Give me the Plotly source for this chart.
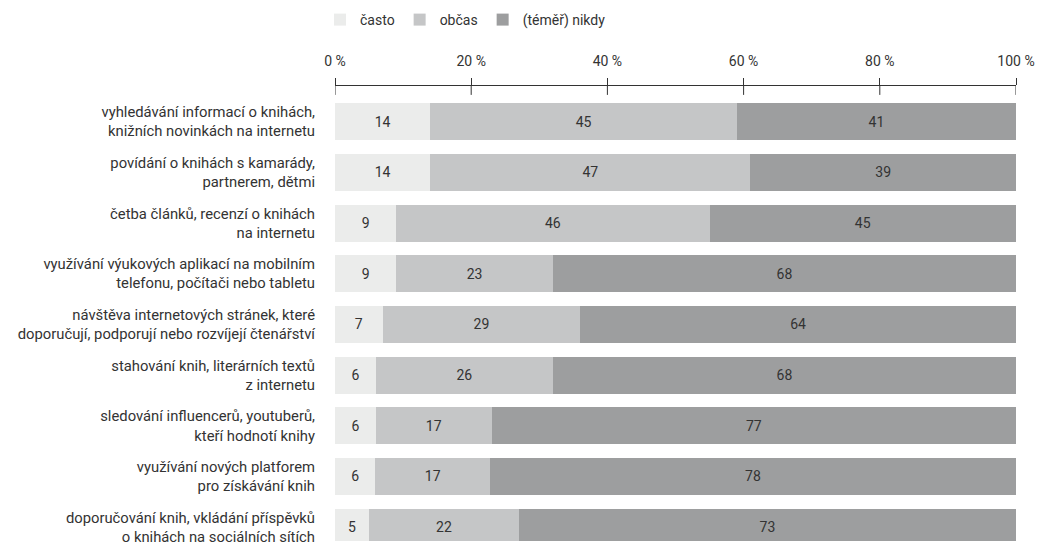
import plotly.graph_objects as go

categories = [
    "vyhledávání informací o knihách,<br>knižních novinkách na internetu",
    "povídání o knihách s kamarády,<br>partnerem, dětmi",
    "četba článků, recenzí o knihách<br>na internetu",
    "využívání výukových aplikací na mobilním<br>telefonu, počítači nebo tabletu",
    "návštěva internetových stránek, které<br>doporučují, podporují nebo rozvíjejí čtenářství",
    "stahování knih, literárních textů<br>z internetu",
    "sledování influencerů, youtuberů,<br>kteří hodnotí knihy",
    "využívání nových platforem<br>pro získávání knih",
    "doporučování knih, vkládání příspěvků<br>o knihách na sociálních sítích",
]
series_names = ["často", "občas", "(téměř) nikdy"]
casto = [14, 14, 9, 9, 7, 6, 6, 6, 5]
obcas = [45, 47, 46, 23, 29, 26, 17, 17, 22]
nikdy = [41, 39, 45, 68, 64, 68, 77, 78, 73]
tick_vals = [0, 20, 40, 60, 80, 100]
tick_text = ["0 %", "20 %", "40 %", "60 %", "80 %", "100 %"]

colors = ["#ebeceb", "#c5c6c7", "#9d9e9f"]
FONT = "Roboto"
FS = 14
TXT = "#333333"

totals = [a + b + c for a, b, c in zip(casto, obcas, nikdy)]
fig = go.Figure()
for name, vals, col in zip(series_names, [casto, obcas, nikdy], colors):
    shares = [v / t * 100 for v, t in zip(vals, totals)]
    fig.add_trace(go.Bar(
        y=categories, x=shares, name=name, orientation="h",
        marker=dict(color=col, line=dict(width=0)),
        text=[str(v) for v in vals], textposition="inside",
        insidetextanchor="middle", textangle=0,
        textfont=dict(family=FONT, size=FS, color=TXT),
        constraintext="none",
    ))

W, H = 1037, 546
top_m = 85
plot_h = H - top_m
dom_top = (H - 96.4) / plot_h

fig.update_layout(
    width=W, height=H,
    barmode="stack", bargap=0.27,
    plot_bgcolor="white", paper_bgcolor="white",
    margin=dict(l=335, r=21, t=top_m, b=0),
    font=dict(family=FONT, size=FS, color=TXT),
    legend=dict(orientation="h", x=-0.022, xanchor="left", xref="paper",
                y=1 - 20 / H, yref="container", yanchor="middle",
                font=dict(family=FONT, size=FS, color=TXT),
                traceorder="normal", itemwidth=30),
)
fig.update_xaxes(
    range=[0, 100], side="top", anchor="free", position=1,
    tickvals=tick_vals, ticktext=tick_text,
    showline=True, linecolor="#333333", linewidth=1,
    ticks="outside", ticklen=7, tickcolor="#333333", tickwidth=1,
    ticklabelstandoff=6,
    showgrid=False, zeroline=False, fixedrange=True,
    tickfont=dict(family=FONT, size=FS, color=TXT),
)
fig.update_yaxes(
    domain=[0, dom_top], autorange=False,
    range=[8.273, -0.5], showgrid=False, zeroline=False,
    ticks="", showline=False, ticklabelstandoff=19,
    tickfont=dict(family=FONT, size=14.8, color=TXT),
)
for v in tick_vals:
    fig.add_shape(type="line", xref="x", yref="paper", x0=v, x1=v,
                  y0=1, y1=(H - 95) / plot_h,
                  line=dict(color="#333333", width=1))

fig.write_html(
    "out.html",
    config={"displayModeBar": False},
    post_script="document.body.style.margin='0';document.body.style.overflow='hidden';",
)
